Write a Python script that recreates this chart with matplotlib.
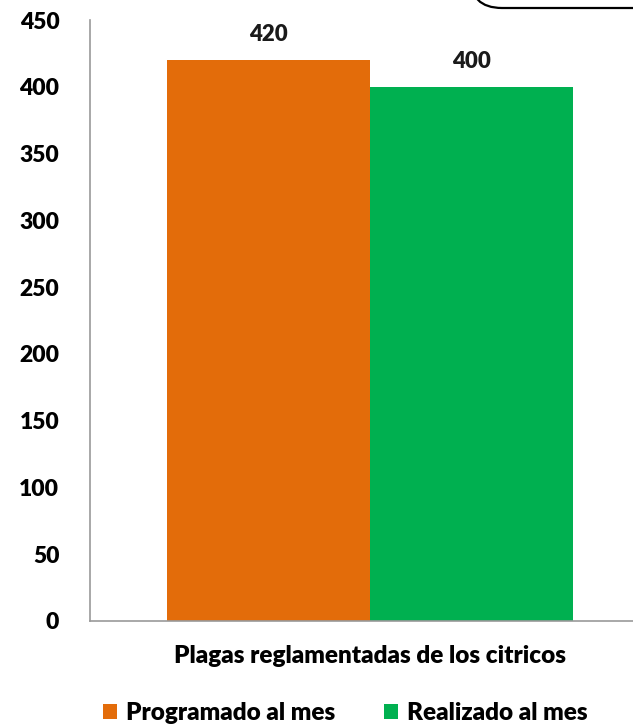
#!/usr/bin/env python3
import matplotlib
matplotlib.use("Agg")
import matplotlib.pyplot as plt
from matplotlib.patches import FancyBboxPatch

# data
category = "Plagas reglamentadas de los citricos"
series = ["Programado al mes", "Realizado al mes"]
values = [420, 400]
colors = ["#E36C0A", "#00B050"]
yticks = [0, 50, 100, 150, 200, 250, 300, 350, 400, 450]

plt.rcParams['font.family'] = ['Lato', 'DejaVu Sans']

fig = plt.figure(figsize=(6.33, 7.24), dpi=100)
ax = fig.add_axes([0.142, 0.1423, 0.885, 0.830])

bw = 0.3625
offsets = [-bw / 2, bw / 2]
for name, val, col, off in zip(series, values, colors, offsets):
    ax.bar(off, val, width=bw, color=col, label=name)
    ax.text(off, val + 11, str(val), ha='center', va='bottom',
            fontsize=16, fontweight='heavy', color='#1a1a1a')

ax.set_xlim(-0.5, 0.5)
ax.set_ylim(0, 450)
ax.set_yticks(yticks)
ax.set_yticklabels([str(t) for t in yticks], fontsize=16.5, fontweight='heavy')
ax.tick_params(axis='y', length=0, pad=22)
ax.set_xticks([0])
ax.set_xticklabels([category], fontsize=17.5, fontweight='heavy')
ax.tick_params(axis='x', length=0, pad=17)
for s in ['top', 'right']:
    ax.spines[s].set_visible(False)
for s in ['left', 'bottom']:
    ax.spines[s].set_color('#999999')
    ax.spines[s].set_linewidth(1.2)

fig.legend(loc='lower center', bbox_to_anchor=(0.545, -0.03), ncol=2,
           frameon=False, prop={'size': 17.5, 'weight': 'heavy'},
           handlelength=0.6, handleheight=0.6, columnspacing=2.0,
           handletextpad=0.35)

# partially visible rounded box in the top right
box = FancyBboxPatch((470, 716), 260, 140,
                     boxstyle="round,pad=0,rounding_size=32",
                     transform=None, facecolor='white', edgecolor='black',
                     linewidth=1.6)
fig.patches.append(box)

fig.savefig("out.png", dpi=100)
